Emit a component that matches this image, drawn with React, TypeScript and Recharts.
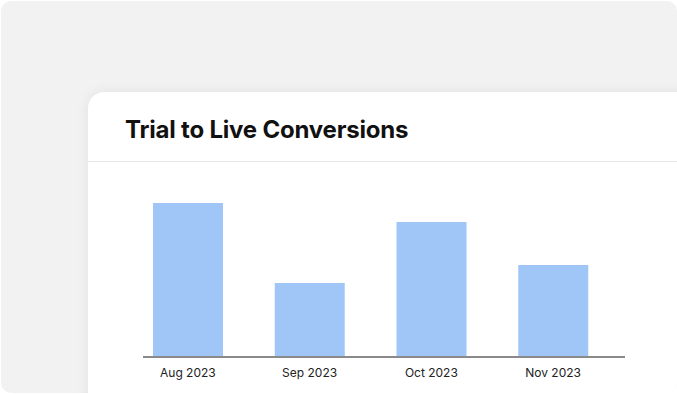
import React from 'react';
import { BarChart, Bar, XAxis, YAxis } from 'recharts';

const months = ['Aug 2023', 'Sep 2023', 'Oct 2023', 'Nov 2023'];
const conversions = [154, 74, 135, 92];

const chartData = months.map((month, i) => ({ month, conversions: conversions[i] }));

const font = 'Inter, "Noto Sans", sans-serif';

const App: React.FC = () => {
  return (
    <div style={{ position: 'absolute', left: 0, top: 0, width: 677, height: 394, background: '#ffffff', fontFamily: font }}>
      <div style={{ position: 'absolute', left: 1, top: 1, width: 676, height: 392, background: '#f2f2f2', borderRadius: 10, overflow: 'hidden' }}>
        <div
          style={{
            position: 'absolute',
            left: 87,
            top: 91,
            width: 640,
            height: 360,
            background: '#ffffff',
            borderRadius: 16,
            boxShadow: '0 0 14px rgba(0,0,0,0.07)',
          }}
        >
          <div style={{ position: 'absolute', left: 37, top: 23, fontSize: 24, fontWeight: 700, lineHeight: '29px', color: '#111', letterSpacing: -0.2, whiteSpace: 'nowrap' }}>
            Trial to Live Conversions
          </div>
          <div style={{ position: 'absolute', left: 0, right: 0, top: 69, height: 1, background: '#e8e8e8' }} />

          <div style={{ position: 'absolute', left: 0, top: 70 }}>
            <BarChart width={620} height={225} data={chartData} margin={{ top: 15, right: 83, left: 55, bottom: 0 }}>
              <YAxis hide domain={[0, 180]} />
              <XAxis
                dataKey="month"
                height={30}
                padding={{ left: -16, right: 11 }}
                axisLine={{ stroke: '#8a8a8a', strokeWidth: 2 }}
                tickLine={false}
                tickMargin={5}
                tick={{ fontSize: 12, fill: '#222', fontFamily: font }}
              />
              <Bar dataKey="conversions" fill="#a0c6f8" barSize={70} isAnimationActive={false} />
            </BarChart>
          </div>
        </div>
      </div>
    </div>
  );
};

export default App;
